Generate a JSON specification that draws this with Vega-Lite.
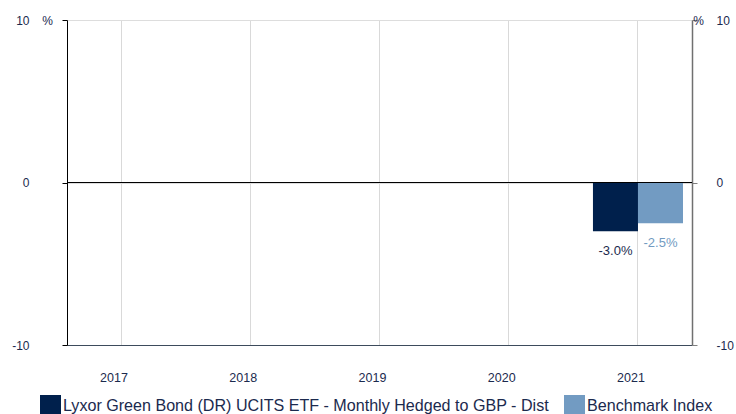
{
  "$schema": "https://vega.github.io/schema/vega-lite/v6.json",
  "width": 625,
  "height": 325,
  "autosize": {"type": "none"},
  "padding": {"left": 67, "top": 20, "right": 44, "bottom": 69},
  "background": "white",
  "config": {
    "font": "Liberation Sans",
    "view": {"stroke": null},
    "axis": {"labelFont": "Liberation Sans", "titleFont": "Liberation Sans", "labelColor": "#1b2a4e", "titleColor": "#1b2a4e"}
  },
  "data": {
    "values": [
      {"year": "2017", "series": "Lyxor Green Bond (DR) UCITS ETF - Monthly Hedged to GBP - Dist", "value": null, "label": ""},
      {"year": "2018", "series": "Lyxor Green Bond (DR) UCITS ETF - Monthly Hedged to GBP - Dist", "value": null, "label": ""},
      {"year": "2019", "series": "Lyxor Green Bond (DR) UCITS ETF - Monthly Hedged to GBP - Dist", "value": null, "label": ""},
      {"year": "2020", "series": "Lyxor Green Bond (DR) UCITS ETF - Monthly Hedged to GBP - Dist", "value": null, "label": ""},
      {"year": "2021", "series": "Lyxor Green Bond (DR) UCITS ETF - Monthly Hedged to GBP - Dist", "value": -3.0, "label": "-3.0%"},
      {"year": "2021", "series": "Benchmark Index", "value": -2.5, "label": "-2.5%"}
    ]
  },
  "encoding": {
    "x": {
      "field": "year", "type": "nominal",
      "scale": {"domain": ["2017", "2018", "2019", "2020", "2021"], "paddingInner": 0.164, "paddingOuter": 0},
      "axis": {
        "title": null, "labelAngle": 0, "ticks": false, "tickSize": 0, "labelPadding": 26,
        "labelFontSize": 12.5, "labelOffset": -7, "bandPosition": 0.5,
        "grid": true, "gridColor": "#d9d9d9", "gridWidth": 1,
        "domainColor": "#3d4b5c", "domainWidth": 1
      }
    },
    "xOffset": {
      "field": "series", "type": "nominal",
      "scale": {"domain": ["Lyxor Green Bond (DR) UCITS ETF - Monthly Hedged to GBP - Dist", "Benchmark Index"], "paddingInner": 0, "paddingOuter": 0.2}
    }
  },
  "layer": [
    {
      "mark": {"type": "bar"},
      "encoding": {
        "y": {
          "field": "value", "type": "quantitative",
          "scale": {"domain": [-10, 10], "nice": false, "zero": false},
          "axis": {
            "values": [-10, 0, 10], "labelExpr": "toString(datum.value)", "grid": true, "gridColor": "#dddddd",
            "labelFontSize": 12, "labelPadding": 33, "tickSize": 5, "tickColor": "#000000",
            "domainColor": "#000000", "domainWidth": 1,
            "title": "%", "titleAngle": 0, "titleX": -20, "titleY": 0, "titleAlign": "center",
            "titleBaseline": "middle", "titleFontWeight": "normal", "titleFontSize": 12
          }
        },
        "color": {
          "field": "series", "type": "nominal",
          "scale": {"domain": ["Lyxor Green Bond (DR) UCITS ETF - Monthly Hedged to GBP - Dist", "Benchmark Index"], "range": ["#00204c", "#729bc2"]},
          "legend": {
            "title": null, "orient": "none", "direction": "horizontal", "legendX": -27, "legendY": 375,
            "symbolType": "square", "symbolSize": 441, "symbolStrokeWidth": 0, "symbolOpacity": 1,
            "labelFontSize": 16.1, "labelColor": "#1b2a4e", "labelFont": "Liberation Sans",
            "labelOffset": 2, "columnPadding": 15, "padding": 0, "labelLimit": 600
          }
        }
      }
    },
    {
      "mark": {"type": "rule", "color": "#000000", "strokeWidth": 1.2},
      "encoding": {
        "y": {"datum": 0, "type": "quantitative", "scale": {"domain": [-10, 10], "nice": false, "zero": false}, "axis": null},
        "x": {"value": 0},
        "x2": {"value": 625},
        "xOffset": null
      }
    },
    {
      "mark": {"type": "text", "baseline": "middle", "align": "center", "dy": 19.5, "fontSize": 13, "font": "Liberation Sans"},
      "encoding": {
        "y": {
          "field": "value", "type": "quantitative",
          "scale": {"domain": [-10, 10], "nice": false, "zero": false},
          "axis": {
            "orient": "right", "values": [-10, 0, 10], "labelExpr": "toString(datum.value)", "grid": false,
            "labelFontSize": 12, "labelPadding": 19, "labelAlign": "left", "tickSize": 5, "tickColor": "#808080",
            "domainColor": "#707070", "domainWidth": 1.5,
            "title": "%", "titleAngle": 0, "titleX": 6, "titleY": 0, "titleAlign": "center",
            "titleBaseline": "middle", "titleFontWeight": "normal", "titleFontSize": 12
          }
        },
        "text": {"field": "label"},
        "color": {"condition": {"test": "datum.series === 'Benchmark Index'", "value": "#729bc2"}, "value": "#1b2a4e"}
      }
    }
  ],
  "resolve": {"scale": {"y": "independent", "color": "independent"}}
}
